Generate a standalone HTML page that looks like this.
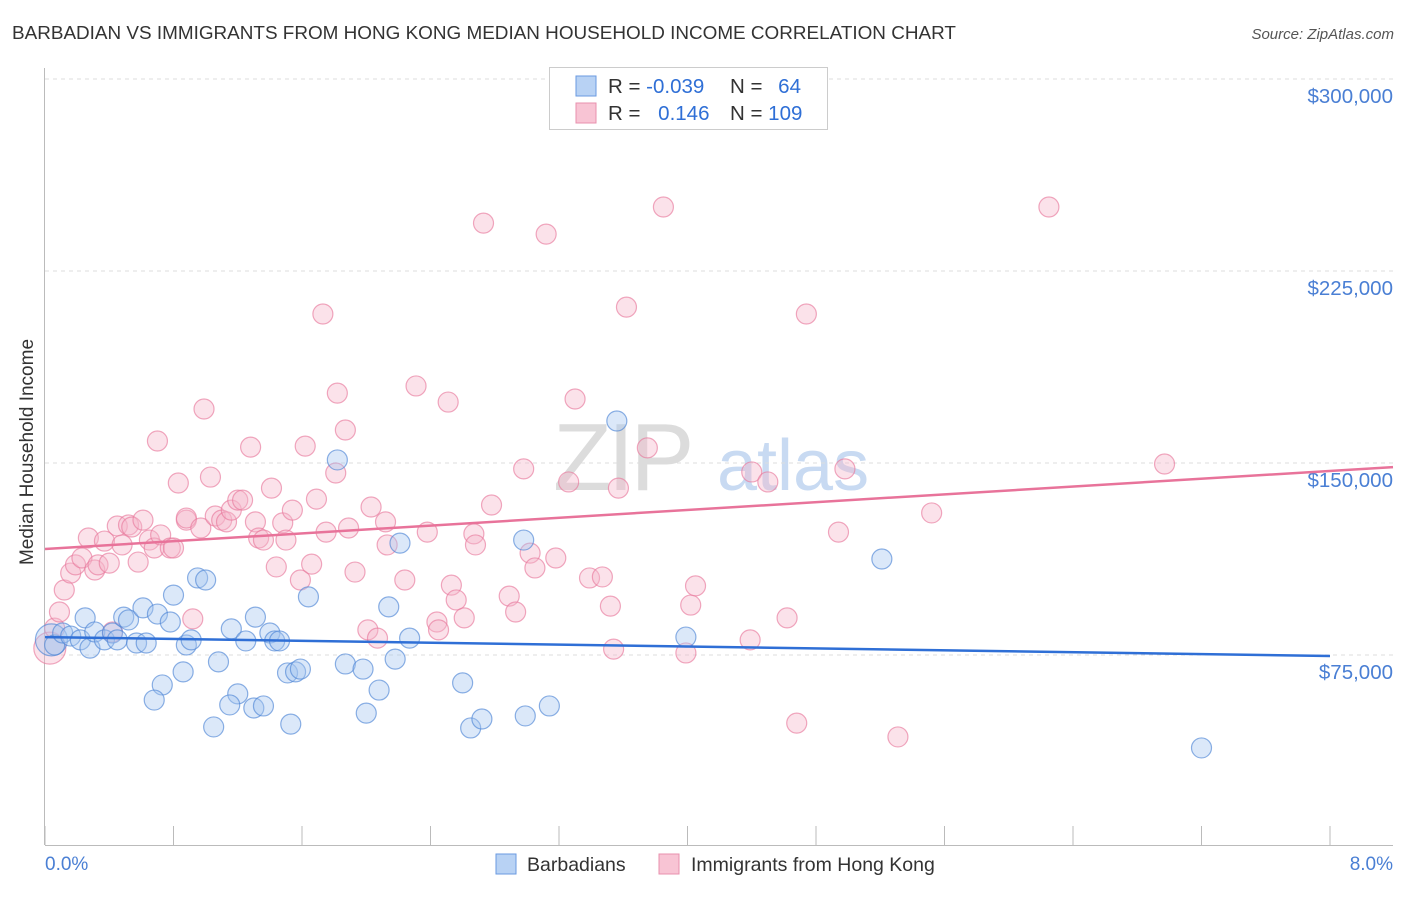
<!DOCTYPE html>
<html><head><meta charset="utf-8"><style>
body{margin:0;background:#fff;font-family:"Liberation Sans",sans-serif}
svg text{font-family:"Liberation Sans",sans-serif}
</style></head><body>
<svg id="chart" width="1406" height="892" viewBox="0 0 1406 892" xmlns="http://www.w3.org/2000/svg">
<text x="12" y="39" font-size="18.9" fill="#333">BARBADIAN VS IMMIGRANTS FROM HONG KONG MEDIAN HOUSEHOLD INCOME CORRELATION CHART</text>
<text x="1394" y="39" font-size="15" fill="#555" font-style="italic" text-anchor="end">Source: ZipAtlas.com</text>
<g>
<text x="553" y="490" font-size="96" font-family="Liberation Serif" fill="#dcdcdc" letter-spacing="-4">ZIP</text>
<text x="717" y="490" font-size="72" fill="#c8daf2">atlas</text>
</g>
<g id="grid"></g>
<g id="axes"></g>
<g id="pink"></g>
<g id="blue"></g>
<g id="lines"></g>
<text x="36" y="455" font-size="19" fill="#333" text-anchor="middle" transform="rotate(-90 33 455)">Median Household Income</text>
<text x="45" y="870" font-size="19" fill="#4a7fd4">0.0%</text>
<text x="1393" y="870" font-size="19" fill="#4a7fd4" text-anchor="end">8.0%</text>
<g>
<rect x="549.5" y="67.5" width="278" height="62" fill="#fff" stroke="#ccc"/>
<rect x="576" y="76" width="20" height="20" fill="#b8d2f4" stroke="#6a9ae0"/>
<rect x="576" y="103" width="20" height="20" fill="#f8c4d4" stroke="#e890ae"/>
<text x="608" y="93" font-size="20.5" fill="#333">R = <tspan fill="#2f6fd6">-0.039</tspan></text>
<text x="730" y="93" font-size="20.5" fill="#333">N = <tspan fill="#2f6fd6" dx="10">64</tspan></text>
<text x="608" y="120" font-size="20.5" fill="#333">R = <tspan fill="#2f6fd6" dx="12">0.146</tspan></text>
<text x="730" y="120" font-size="20.5" fill="#333">N = <tspan fill="#2f6fd6">109</tspan></text>
</g>
<g>
<rect x="496" y="854" width="20" height="20" fill="#b8d2f4" stroke="#6a9ae0"/>
<text x="527" y="871" font-size="19.5" fill="#333">Barbadians</text>
<rect x="659" y="854" width="20" height="20" fill="#f8c4d4" stroke="#e890ae"/>
<text x="691" y="871" font-size="19.5" fill="#333">Immigrants from Hong Kong</text>
</g>
</svg>
<script>
const yTicks=[75000,150000,225000,300000];
const yTickLabels=["$75,000","$150,000","$225,000","$300,000"];
const xTicks=[0,0.8,1.6,2.4,3.2,4.0,4.8,5.6,6.4,7.2,8.0];
const blueX=[0.04,0.06,0.11,0.16,0.22,0.28,0.25,0.31,0.37,0.42,0.45,0.49,0.52,0.57,0.61,0.63,0.70,0.73,0.68,0.78,0.80,0.86,0.88,0.91,0.95,1.00,1.05,1.08,1.16,1.20,1.25,1.15,1.30,1.31,1.36,1.40,1.43,1.46,1.51,1.53,1.56,1.59,1.64,1.82,1.87,1.98,2.00,2.08,2.14,2.18,2.21,2.27,2.60,2.65,2.72,2.98,2.99,3.14,3.56,3.99,5.21,7.20];
const blueY=[80.9,78.9,83.6,82.4,80.9,77.7,89.5,84.0,80.9,83.6,80.9,89.8,88.7,79.7,93.4,79.7,91.0,63.3,57.4,87.9,98.4,68.4,78.9,80.9,105.1,104.3,46.9,72.3,85.2,59.8,80.5,55.5,54.3,89.8,55.1,83.6,80.5,80.5,68.0,48.0,68.4,69.5,97.7,151.2,71.5,69.5,52.3,61.3,93.8,73.4,118.7,81.6,64.1,46.5,50.0,119.9,51.2,55.1,166.4,82.0,112.5,38.7];
const pinkX=[0.03,0.06,0.09,0.12,0.16,0.19,0.23,0.27,0.31,0.33,0.37,0.40,0.42,0.45,0.48,0.52,0.54,0.58,0.61,0.65,0.68,0.70,0.72,0.78,0.80,0.83,0.88,0.88,0.92,0.97,0.99,1.03,1.06,1.10,1.13,1.16,1.20,1.23,1.28,1.31,1.33,1.36,1.41,1.44,1.48,1.50,1.54,1.59,1.62,1.66,1.69,1.73,1.75,1.81,1.82,1.87,1.89,1.93,2.01,2.03,2.07,2.12,2.13,2.24,2.31,2.38,2.44,2.45,2.51,2.53,2.56,2.61,2.67,2.68,2.73,2.78,2.89,2.93,2.98,3.02,3.05,3.12,3.18,3.26,3.30,3.39,3.47,3.52,3.54,3.57,3.62,3.75,3.85,3.99,4.02,4.05,4.39,4.40,4.50,4.62,4.68,4.74,4.94,4.98,5.31,5.52,6.25,6.97];
const pinkY=[77.7,85.5,91.8,100.4,107.0,110.2,112.9,120.7,108.2,110.2,119.5,110.9,84.0,125.4,118.0,125.8,125.0,111.3,127.7,119.9,116.8,158.6,121.9,116.8,116.8,142.2,127.7,128.5,89.1,124.6,171.1,144.5,129.3,127.7,127.0,131.6,135.5,135.5,156.2,127.0,120.7,119.9,140.2,109.4,126.6,119.9,131.6,104.3,156.6,110.5,135.9,208.2,123.0,146.1,177.3,162.9,124.6,107.4,84.8,132.8,81.6,127.0,118.0,104.3,180.1,123.0,87.9,84.8,173.8,102.3,96.5,89.5,122.3,118.0,243.7,133.6,98.0,91.8,147.7,114.8,109.0,239.4,112.9,142.6,175.0,105.1,105.5,94.1,77.3,140.2,210.9,155.9,250.0,75.8,94.5,102.0,80.9,146.5,142.6,89.5,48.4,208.2,123.0,147.7,43.0,130.5,250.0,149.6];
const blueTrend=[82.0,74.6];
const pinkTrend=[116.4,146.9];
const NS="http://www.w3.org/2000/svg";
const X=p=>45+p/8*1285;
const Y=k=>655-(k*1000-75000)/75000*192;
function mk(tag,attrs,parent){const e=document.createElementNS(NS,tag);for(const k in attrs)e.setAttribute(k,attrs[k]);parent.appendChild(e);return e;}
const grid=document.getElementById('grid'),axes=document.getElementById('axes');
yTicks.forEach((t,i)=>{const y=655-(t-75000)/75000*192;
 const l=mk('line',{x1:45,x2:1393,y1:y,y2:y,stroke:'#ddd','stroke-dasharray':'4,4'},grid);
 
 
 const tx=mk('text',{x:1393,y:y+24,'font-size':20.5,fill:'#4a7fd4','text-anchor':'end'},grid);
 tx.textContent=yTickLabels[i];
 
 
});
const ax=mk('line',{x1:44.5,x2:44.5,y1:68,y2:845,stroke:'#bbb'},axes);


const bx=mk('line',{x1:45,x2:1393,y1:845.5,y2:845.5,stroke:'#bbb'},axes);


xTicks.forEach(t=>{const tk=mk('line',{x1:X(t),x2:X(t),y1:826,y2:845,stroke:'#bbb'},axes);
 
 });
function dots(xs,ys,g,fill,stroke,name){xs.forEach((p,i)=>{const r=i===0?16:10;
 const c=mk('circle',{cx:X(p),cy:Y(ys[i]),r:r,fill:fill,'fill-opacity':0.4,stroke:stroke,'stroke-width':1.2,'stroke-opacity':0.65},g);
 
 });}
dots(pinkX,pinkY,document.getElementById('pink'),'#f5b6ca','#e8799d','hong-kong-point');
dots(blueX,blueY,document.getElementById('blue'),'#a6c6ef','#4f86d6','barbadian-point');
const lg=document.getElementById('lines');
const pl=mk('line',{x1:X(0),y1:Y(pinkTrend[0]),x2:1393,y2:Y(pinkTrend[0]+(pinkTrend[1]-pinkTrend[0])*(1393-45)/1285),stroke:'#e8739a','stroke-width':2.5},lg);


const bl=mk('line',{x1:X(0),y1:Y(blueTrend[0]),x2:X(8),y2:Y(blueTrend[1]),stroke:'#2f6fd6','stroke-width':2.5},lg);


</script>
</body></html>
